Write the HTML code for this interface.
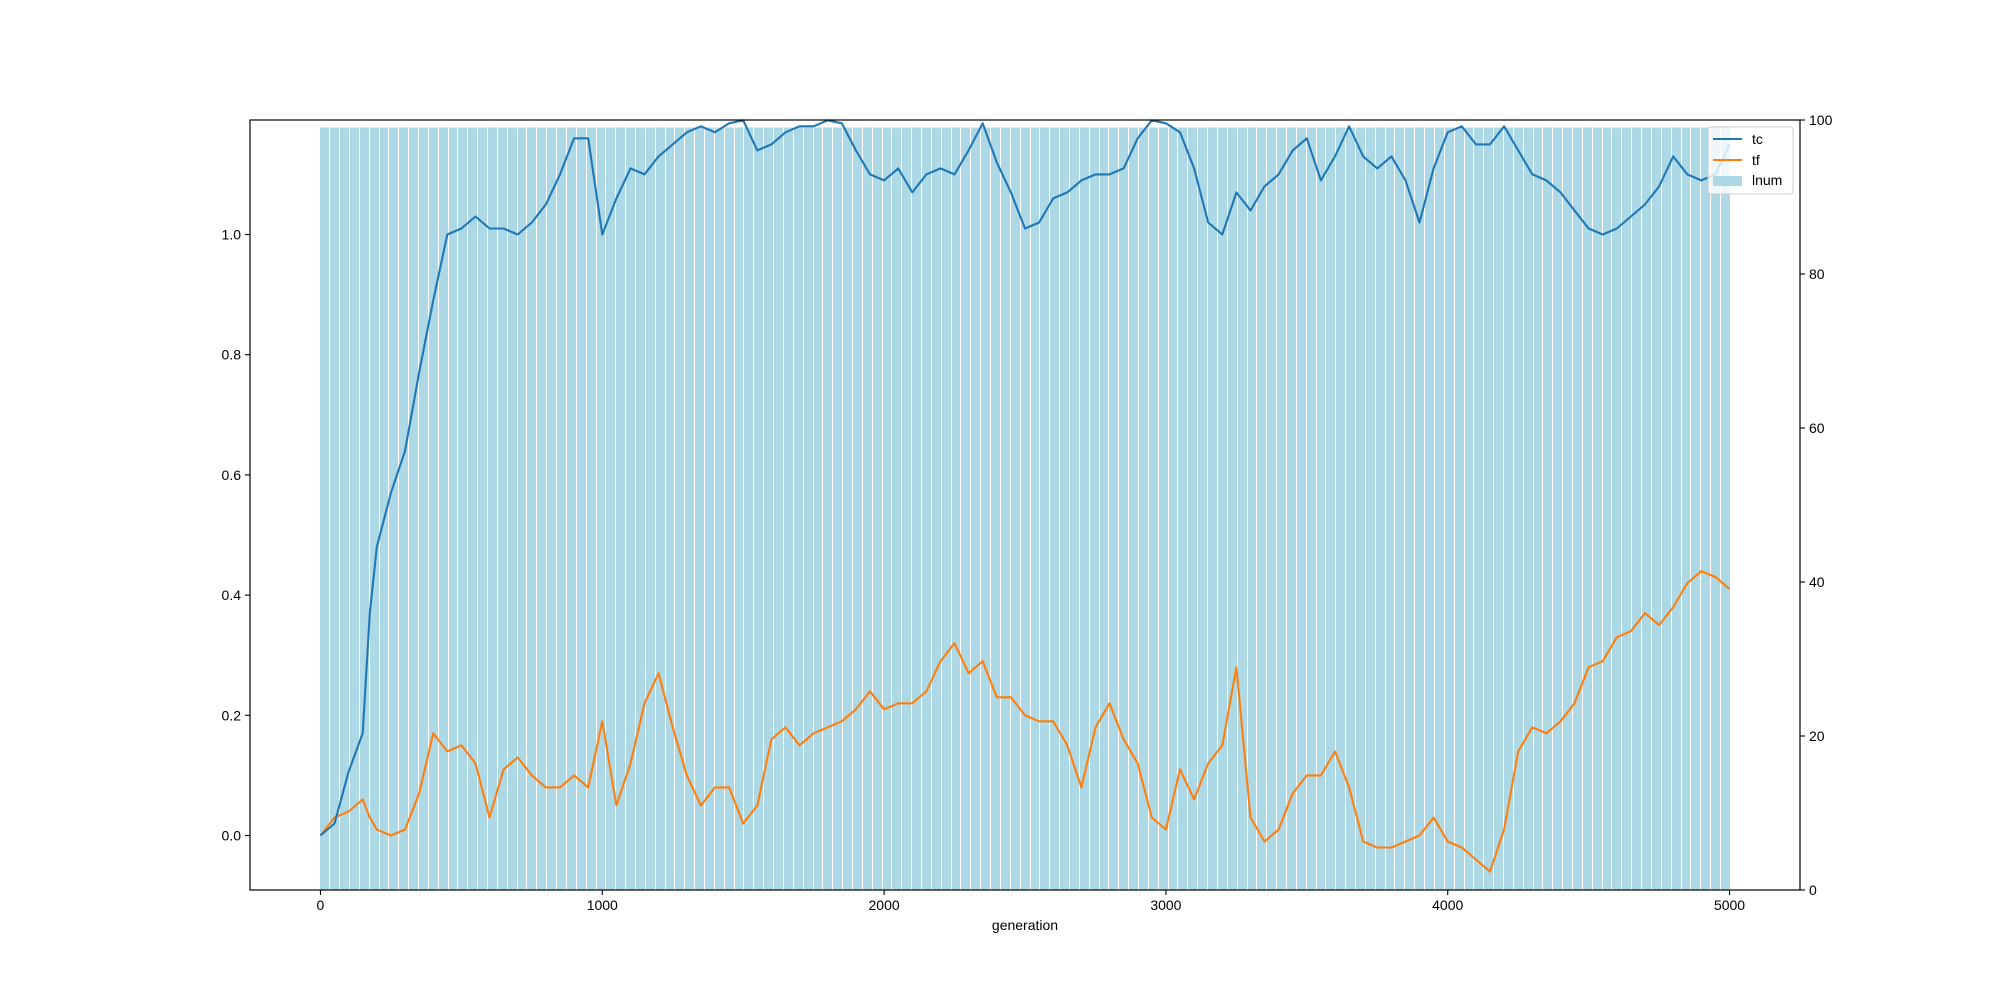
<!DOCTYPE html>
<html><head><meta charset="utf-8"><style>
body{margin:0;background:#fff;}
svg{display:block;font-family:"Liberation Sans","DejaVu Sans",sans-serif;}
</style></head><body>
<svg id="chart" width="2000" height="1000" xmlns="http://www.w3.org/2000/svg">
<g id="bars"></g>
<g id="lines"></g>
<g id="axes"></g>
<g id="legend"></g>
</svg>
<script>
const gens = [0,50,100,150,175,200,250,300,350,400,450,500,550,600,650,700,750,800,850,900,950,1000,1050,1100,1150,1200,1250,1300,1350,1400,1450,1500,1550,1600,1650,1700,1750,1800,1850,1900,1950,2000,2050,2100,2150,2200,2250,2300,2350,2400,2450,2500,2550,2600,2650,2700,2750,2800,2850,2900,2950,3000,3050,3100,3150,3200,3250,3300,3350,3400,3450,3500,3550,3600,3650,3700,3750,3800,3850,3900,3950,4000,4050,4100,4150,4200,4250,4300,4350,4400,4450,4500,4550,4600,4650,4700,4750,4800,4850,4900,4950,5000];
const tc = [0,0.02,0.106,0.17,0.37,0.48,0.57,0.64,0.77,0.89,1.0,1.01,1.03,1.01,1.01,1.0,1.02,1.05,1.10,1.16,1.16,1.0,1.06,1.11,1.10,1.13,1.15,1.17,1.18,1.17,1.185,1.19,1.14,1.15,1.17,1.18,1.18,1.19,1.185,1.14,1.10,1.09,1.11,1.07,1.10,1.11,1.10,1.14,1.185,1.12,1.07,1.01,1.02,1.06,1.07,1.09,1.10,1.10,1.11,1.16,1.19,1.185,1.17,1.11,1.02,1.0,1.07,1.04,1.08,1.10,1.14,1.16,1.09,1.13,1.18,1.13,1.11,1.13,1.09,1.02,1.11,1.17,1.18,1.15,1.15,1.18,1.14,1.10,1.09,1.07,1.04,1.01,1.0,1.01,1.03,1.05,1.08,1.13,1.10,1.09,1.10,1.15];
const tf = [0,0.03,0.04,0.06,0.03,0.01,0.0,0.01,0.07,0.17,0.14,0.15,0.12,0.03,0.11,0.13,0.10,0.08,0.08,0.10,0.08,0.19,0.05,0.12,0.22,0.27,0.18,0.10,0.05,0.08,0.08,0.02,0.05,0.16,0.18,0.15,0.17,0.18,0.19,0.21,0.24,0.21,0.22,0.22,0.24,0.29,0.32,0.27,0.29,0.23,0.23,0.20,0.19,0.19,0.15,0.08,0.18,0.22,0.16,0.12,0.03,0.01,0.11,0.06,0.12,0.15,0.28,0.03,-0.01,0.01,0.07,0.10,0.10,0.14,0.08,-0.01,-0.02,-0.02,-0.01,0.0,0.03,-0.01,-0.02,-0.04,-0.06,0.01,0.14,0.18,0.17,0.19,0.22,0.28,0.29,0.33,0.34,0.37,0.35,0.38,0.42,0.44,0.43,0.41];
const barStep = 35;
const lnum = Array(143).fill(99);
const xTicks = [0,1000,2000,3000,4000,5000];
const yTicks = [0.0,0.2,0.4,0.6,0.8,1.0];
const y2Ticks = [0,20,40,60,80,100];

const L=250,R=1800,T=120,B=890;
const NS="http://www.w3.org/2000/svg";
const xs=g=>L+(g+250)/5500*(R-L);
const ys=v=>835.5-v*601;
const y2=v=>B-v/100*(B-T);
function mk(tag,attrs,parent,text){const e=document.createElementNS(NS,tag);for(const k in attrs)e.setAttribute(k,attrs[k]);if(text!==undefined)e.textContent=text;parent.appendChild(e);return e;}

const bars=document.getElementById('bars');
lnum.forEach((v,i)=>{
  const g=i*barStep;
  const x0=Math.round(xs(g-0.4)), x1=Math.round(xs(Math.min(g+barStep-4,5000)));
  const r=mk('rect',{x:x0,y:y2(v),width:Math.max(1,x1-x0),height:B-y2(v),fill:'#add8e6','shape-rendering':'crispEdges'},bars);
  
  
});

const lines=document.getElementById('lines');
function line(arr,color,name){
  const d=arr.map((v,i)=>(i?'L':'M')+xs(gens[i]).toFixed(1)+','+ys(v).toFixed(1)).join('');
  const p=mk('path',{d:d,fill:'none',stroke:color,'stroke-width':2.1,'stroke-linejoin':'round'},lines);
  
  
}
line(tf,'#ff7f0e','tf-line');
line(tc,'#1f77b4','tc-line');

const ax=document.getElementById('axes');
mk('rect',{x:L,y:T,width:R-L,height:B-T,fill:'none',stroke:'#000','stroke-width':1.2},ax);
xTicks.forEach(t=>{const x=xs(t);mk('line',{x1:x,x2:x,y1:B,y2:B+5,stroke:'#000','stroke-width':1.1},ax);
  const tx=mk('text',{x:x,y:B+20,'text-anchor':'middle','font-size':14},ax,String(t));
  
  });
yTicks.forEach(t=>{const y=ys(t);mk('line',{x1:L,x2:L-5,y1:y,y2:y,stroke:'#000','stroke-width':1.1},ax);
  const tx=mk('text',{x:L-9,y:y+5,'text-anchor':'end','font-size':14},ax,t.toFixed(1));
  
  });
y2Ticks.forEach(t=>{const y=y2(t);mk('line',{x1:R,x2:R+5,y1:y,y2:y,stroke:'#000','stroke-width':1.1},ax);
  const tx=mk('text',{x:R+9,y:y+5,'text-anchor':'start','font-size':14},ax,String(t));
  
  });
const xl=mk('text',{x:1025,y:930,'text-anchor':'middle','font-size':14},ax,'generation');



const lg=document.getElementById('legend');
mk('rect',{x:1708,y:127,width:85,height:67,rx:3,fill:'#fff','fill-opacity':0.8,stroke:'#ccc'},lg);
mk('line',{x1:1713,x2:1742,y1:139,y2:139,stroke:'#1f77b4','stroke-width':2},lg);
mk('line',{x1:1713,x2:1742,y1:160,y2:160,stroke:'#ff7f0e','stroke-width':2},lg);
mk('rect',{x:1713,y:176,width:29,height:10,fill:'#add8e6'},lg);
[['tc',144],['tf',165],['lnum',185]].forEach(([t,y])=>{const e=mk('text',{x:1752,y:y,'font-size':14},lg,t);
  
  });
</script>
</body></html>
